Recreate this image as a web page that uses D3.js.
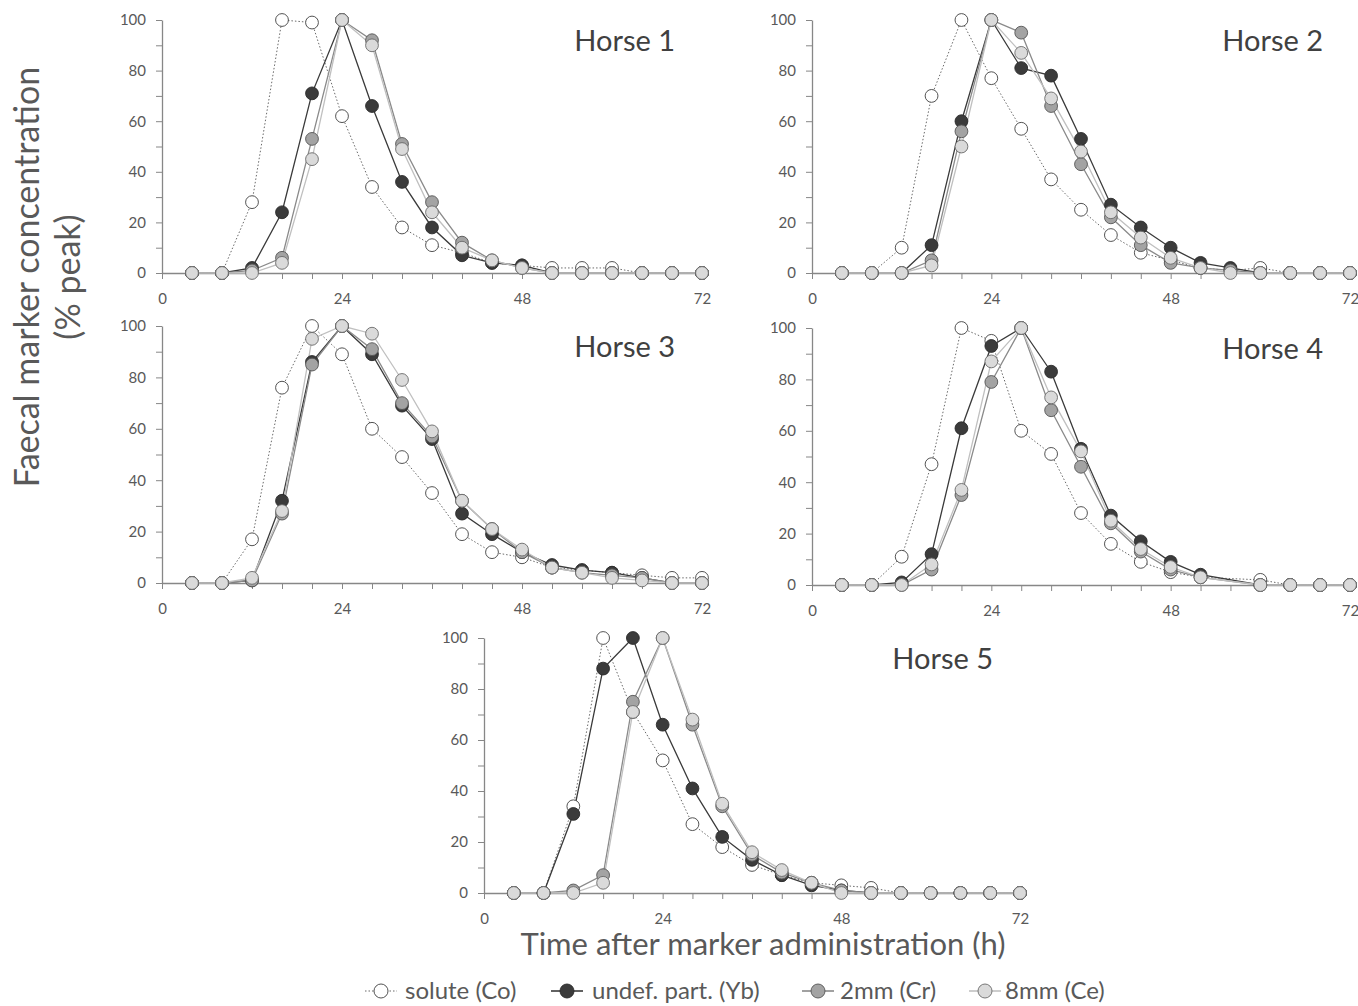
<!DOCTYPE html>
<html><head><meta charset="utf-8">
<script src="https://cdn.jsdelivr.net/npm/d3@7"></script>
<style>
body{margin:0;background:#fff;}
svg{display:block;}
</style></head>
<body>
<svg id="c" width="1358" height="1006"></svg>
<script>
// ---- data ----
const times = [4,8,12,16,20,24,28,32,36,40,44,48,52,56,60,64,68,72];
const horses = ["Horse 1","Horse 2","Horse 3","Horse 4","Horse 5"];
const seriesNames = ["solute (Co)","undef. part. (Yb)","2mm (Cr)","8mm (Ce)"];
const xTickLabels = [0,24,48,72];
const yTickLabels = [0,20,40,60,80,100];

const h1_solute = [0,0,28,100,99,62,34,18,11,8,4,3,2,2,2,0,0,0];
const h1_undef  = [0,0,2,24,71,100,66,36,18,7,4,3,0,0,0,0,0,0];
const h1_2mm    = [0,0,1,6,53,100,92,51,28,12,5,2,0,0,0,0,0,0];
const h1_8mm    = [0,0,0,4,45,100,90,49,24,10,5,2,0,0,0,0,0,0];

const h2_solute = [0,0,10,70,100,77,57,37,25,15,8,5,2,1,2,0,0,0];
const h2_undef  = [0,0,0,11,60,100,81,78,53,27,18,10,4,2,0,0,0,0];
const h2_2mm    = [0,0,0,5,56,100,95,66,43,22,11,4,2,1,0,0,0,0];
const h2_8mm    = [0,0,0,3,50,100,87,69,48,24,14,6,2,0,0,0,0,0];

const h3_solute = [0,0,17,76,100,89,60,49,35,19,12,10,6,5,4,3,2,2];
const h3_undef  = [0,0,1,32,86,100,89,69,56,27,19,12,7,5,4,2,0,0];
const h3_2mm    = [0,0,1,27,85,100,91,70,57,32,21,12,6,4,3,2,0,0];
const h3_8mm    = [0,0,2,28,95,100,97,79,59,32,21,13,6,4,2,1,0,0];

const h4_solute = [0,0,11,47,100,95,60,51,28,16,9,5,3,null,2,0,0,0];
const h4_undef  = [0,0,1,12,61,93,100,83,53,27,17,9,4,null,0,0,0,0];
const h4_2mm    = [0,0,0,6,35,79,100,68,46,24,13,6,3,null,0,0,0,0];
const h4_8mm    = [0,0,0,8,37,87,100,73,52,25,14,7,3,null,0,0,0,0];

const h5_solute = [0,0,34,100,71,52,27,18,11,7,4,3,2,0,0,0,0,0];
const h5_undef  = [0,0,31,88,100,66,41,22,13,7,3,1,0,0,0,0,0,0];
const h5_2mm    = [0,0,1,7,75,100,66,34,15,8,4,1,0,0,0,0,0,0];
const h5_8mm    = [0,0,0,4,71,100,68,35,16,9,4,0,0,0,0,0,0,0];

const panelData = [
  [h1_solute,h1_undef,h1_2mm,h1_8mm],
  [h2_solute,h2_undef,h2_2mm,h2_8mm],
  [h3_solute,h3_undef,h3_2mm,h3_8mm],
  [h4_solute,h4_undef,h4_2mm,h4_8mm],
  [h5_solute,h5_undef,h5_2mm,h5_8mm]
];

// ---- layout & styles ----
const layout = [
  {l:162,r:702,t:20,b:273},
  {l:812,r:1350,t:20,b:273},
  {l:162,r:702,t:326,b:583},
  {l:812,r:1350,t:328,b:585},
  {l:484,r:1020,t:638,b:893}
];
const styles = [
  {line:"#6a6a6a", dash:"1.5,2", lw:1, fill:"#ffffff", stroke:"#404040"},
  {line:"#3a3a3a", dash:null, lw:1.3, fill:"#3b3b3b", stroke:"#2a2a2a"},
  {line:"#8a8a8a", dash:null, lw:1.3, fill:"#a3a3a3", stroke:"#555555"},
  {line:"#c0c0c0", dash:null, lw:1.3, fill:"#dadada", stroke:"#6a6a6a"}
];
const FONT = "Lato, 'Open Sans', sans-serif";
const axisColor = "#878787";
const textColor = "#595959";

const svg = d3.select("#c");

panelData.forEach((series, pi) => {
  const L = layout[pi];
  const x = d3.scaleLinear().domain([0,72]).range([L.l, L.r]);
  const y = d3.scaleLinear().domain([0,100]).range([L.b, L.t]);
  const g = svg.append("g");

  const xa = g.append("g").attr("transform", `translate(0,${L.b})`)
    .call(d3.axisBottom(x).tickValues(d3.range(0,73,4)).tickSize(6).tickSizeOuter(0).tickPadding(14)
      .tickFormat(d => xTickLabels.includes(d) ? d : ""));
  const ya = g.append("g").attr("transform", `translate(${L.l},0)`)
    .call(d3.axisLeft(y).tickValues(d3.range(0,101,10)).tickSize(6).tickSizeOuter(0).tickPadding(10)
      .tickFormat(d => yTickLabels.includes(d) ? d : ""));
  [xa, ya].forEach(a => {
    a.select(".domain").attr("stroke", axisColor).attr("stroke-width", 1.3);
    a.selectAll(".tick line").attr("stroke", axisColor).attr("stroke-width", 1);
    a.selectAll(".tick text").attr("fill", textColor).style("font-family", FONT).style("font-size", "15px");
  });

  series.forEach((vals, si) => {
    const st = styles[si];
    const pts = times.map((t,i) => ({t, v: vals[i]})).filter(d => d.v !== null);
    const line = d3.line().x(d => x(d.t)).y(d => y(d.v));
    g.append("path").datum(pts).attr("d", line)
      .attr("fill","none").attr("stroke", st.line).attr("stroke-width", st.lw)
      .attr("stroke-dasharray", st.dash);
  });
  series.forEach((vals, si) => {
    const st = styles[si];
    const pts = times.map((t,i) => ({t, v: vals[i]})).filter(d => d.v !== null);
    g.selectAll(null).data(pts).enter().append("circle")
      .attr("cx", d => x(d.t)).attr("cy", d => y(d.v)).attr("r", 6.4)
      .attr("fill", st.fill).attr("stroke", st.stroke).attr("stroke-width", 0.9);
  });

  g.append("text").attr("x", L.r - 27).attr("y", L.t + 31)
    .attr("text-anchor","end").attr("fill","#404040")
    .style("font-family", FONT).style("font-size","29px").text(horses[pi]);
});

// axis titles
svg.append("text").attr("transform","translate(39,277) rotate(-90)")
  .attr("text-anchor","middle").attr("fill", textColor)
  .style("font-family", FONT).style("font-size","34px").text("Faecal marker concentration");
svg.append("text").attr("transform","translate(80,277) rotate(-90)")
  .attr("text-anchor","middle").attr("fill", textColor)
  .style("font-family", FONT).style("font-size","34px").text("(% peak)");
svg.append("text").attr("x", 763).attr("y", 955)
  .attr("text-anchor","middle").attr("fill", textColor)
  .style("font-family", FONT).style("font-size","31px").text("Time after marker administration (h)");

// legend
const legendSym = [381, 567, 818, 985];
const legendTxt = [405, 592, 840, 1005];
const lg = svg.append("g");
seriesNames.forEach((name, si) => {
  const st = styles[si];
  const cx = legendSym[si], cy = 991;
  lg.append("line").attr("x1", cx-16).attr("x2", cx+16).attr("y1", cy).attr("y2", cy)
    .attr("stroke", st.line).attr("stroke-width", si===0?1.2:1.6).attr("stroke-dasharray", st.dash);
  lg.append("circle").attr("cx", cx).attr("cy", cy).attr("r", 7)
    .attr("fill", st.fill).attr("stroke", st.stroke).attr("stroke-width", 0.9);
  lg.append("text").attr("x", legendTxt[si]).attr("y", cy+8).attr("fill", textColor)
    .style("font-family", FONT).style("font-size","24px").text(name);
});
</script>
</body></html>
